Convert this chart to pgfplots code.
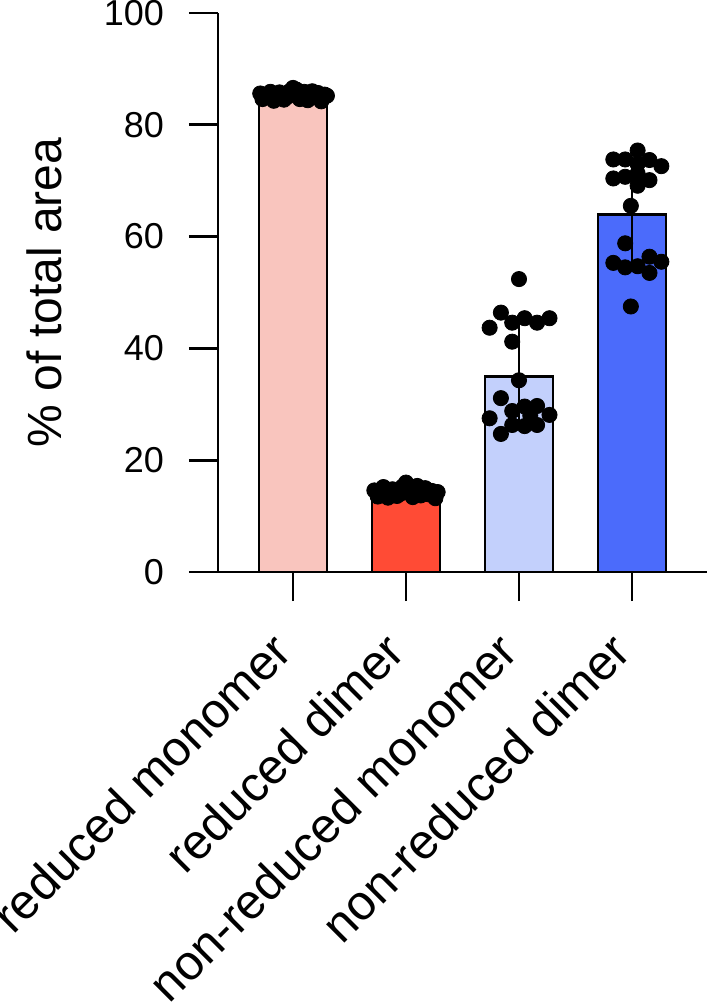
\documentclass[border=0pt]{standalone}
\usepackage{fontspec}
\setmainfont{Liberation Sans}
\usepackage{pgfplots}
\pgfplotsset{compat=1.18}
\definecolor{redmono}{HTML}{F9C5BE}
\definecolor{reddim}{HTML}{FF4B35}
\definecolor{bluemono}{HTML}{C3D0FC}
\definecolor{bluedim}{HTML}{4B6BFB}
\begin{document}
\begin{tikzpicture}
\begin{axis}[
    scale only axis,
    width=244.5pt, height=279.5pt,
    xmin=-0.664, xmax=3.664,
    ymin=0, ymax=100,
    axis x line*=bottom, axis y line*=left,
    axis line style={line width=1.35pt, -},
    tick align=outside,
    major tick length=14.5pt,
    tick style={line width=1.35pt, black},
    xtick={0,1,2,3},
    xticklabels={reduced monomer, reduced dimer, non-reduced monomer, non-reduced dimer},
    xticklabel style={font=\fontsize{24.5}{28}\selectfont, xshift=-3pt, yshift=-18pt, rotate=45, anchor=east},
    ytick={0,20,40,60,80,100},
    yticklabel style={font=\fontsize{18}{21}\selectfont, /pgf/number format/assume math mode=true, xshift=-9pt},
    ylabel={\% of total area},
    ylabel style={font=\fontsize{24}{28}\selectfont, at={(axis description cs:-0.32,0.5)}, anchor=base},
    ybar, bar width=34pt, bar shift=0pt,
    clip=false,
    error bars/error bar style={line width=1.3pt, black},
    error bars/error mark=none,
]
% bars (mean +/- SD)
\addplot[fill=redmono, draw=black, line width=1.3pt,
    error bars/.cd, y dir=both, y explicit]
    coordinates {(0,85.5) +- (0,0.8)};
\addplot[fill=reddim, draw=black, line width=1.3pt,
    error bars/.cd, y dir=both, y explicit]
    coordinates {(1,14.2) +- (0,0.9)};
\addplot[fill=bluemono, draw=black, line width=1.3pt,
    error bars/.cd, y dir=both, y explicit]
    coordinates {(2,35.0) +- (0,9.4)};
\addplot[fill=bluedim, draw=black, line width=1.3pt,
    error bars/.cd, y dir=both, y explicit]
    coordinates {(3,64.0) +- (0,8.5)};
% individual points
\addplot[only marks, mark=*, mark size=3.8pt, black] coordinates {
    (-0.29,85.6) (-0.27,84.6) (-0.20,85.9) (-0.17,84.3) (-0.12,85.8)
    (-0.08,84.5) (-0.03,86.0) (0.00,86.6) (0.03,86.3) (0.06,84.6)
    (0.10,85.9) (0.13,84.4) (0.17,86.0) (0.20,85.0) (0.22,85.7)
    (0.25,84.2) (0.28,85.4) (0.30,85.2) (-0.05,85.0) (0.08,85.3)
};
\addplot[only marks, mark=*, mark size=3.8pt, black] coordinates {
    (0.72,14.6) (0.75,13.5) (0.80,15.2) (0.84,13.3) (0.88,14.8)
    (0.92,13.6) (0.97,15.3) (1.00,16.0) (1.03,14.9) (1.06,13.4)
    (1.10,15.4) (1.13,13.7) (1.17,15.0) (1.20,13.9) (1.23,14.5)
    (1.26,13.2) (1.28,14.3) (0.95,14.0) (1.08,14.2) (1.15,14.6)
};
\addplot[only marks, mark=*, mark size=3.8pt, black] coordinates {
    (2.00,52.4) (1.84,46.4) (1.74,43.7) (1.94,44.6) (2.05,45.4)
    (2.16,44.6) (2.27,45.4) (1.94,41.2) (2.00,34.3) (1.84,31.1)
    (1.94,28.8) (2.05,29.6) (2.16,29.7) (2.27,28.1) (1.74,27.5)
    (1.94,26.3) (2.05,26.1) (2.16,26.3) (1.84,24.7) (2.10,28.0)
};
\addplot[only marks, mark=*, mark size=3.8pt, black] coordinates {
    (3.05,75.4) (2.835,73.8) (2.94,73.8) (3.155,73.7) (3.26,72.6)
    (3.05,73.0) (2.835,70.4) (2.94,70.7) (3.05,71.3) (3.155,70.1)
    (3.05,69.1) (2.99,65.5) (2.94,58.8) (2.835,55.3) (2.94,54.5)
    (3.05,54.7) (3.155,56.4) (3.26,55.5) (3.155,53.5) (2.99,47.5)
};
\end{axis}
\pgfresetboundingbox
\path[use as bounding box] (-109pt,-215pt) rectangle (245pt,286pt);
\end{tikzpicture}
\end{document}
